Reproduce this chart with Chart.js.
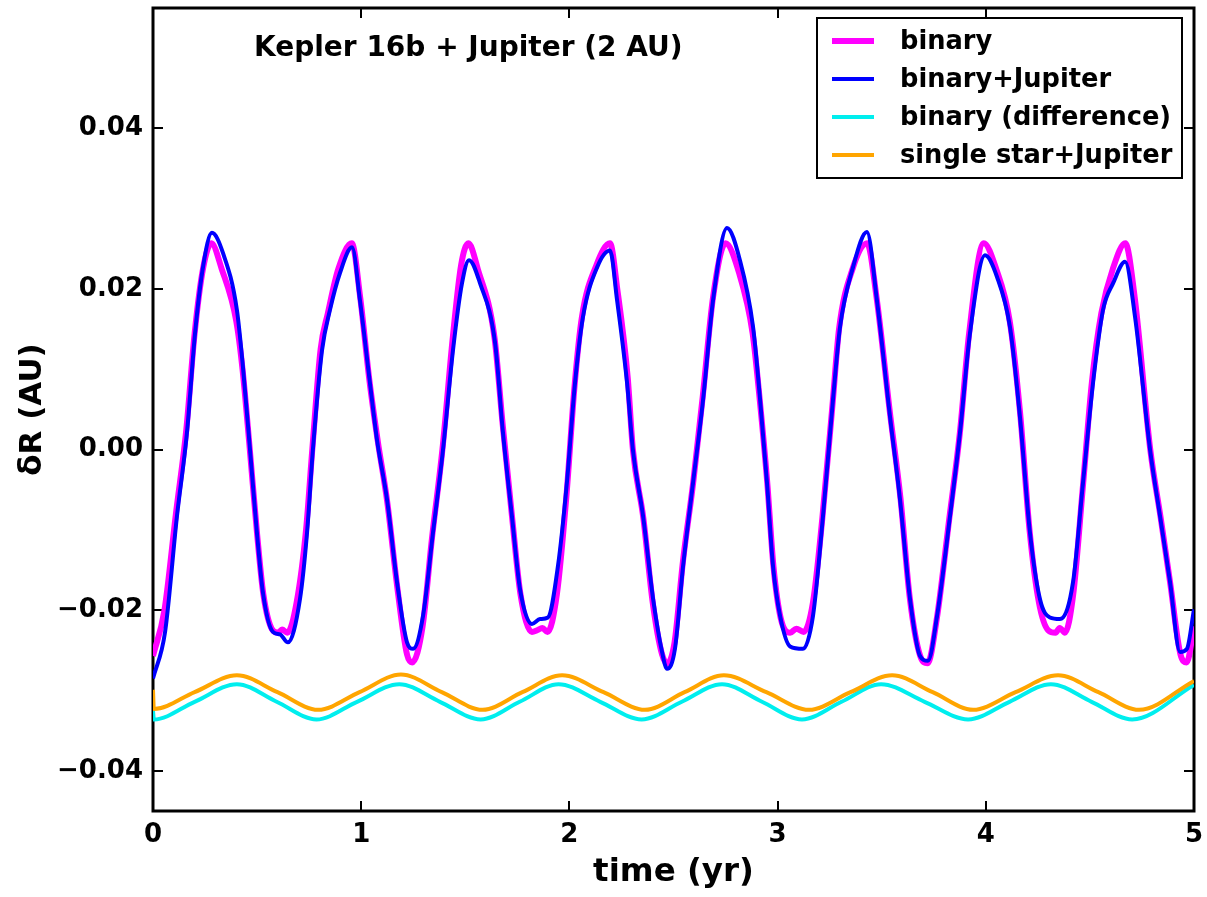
<!DOCTYPE html>
<html>
<head>
<meta charset="utf-8">
<script src="https://cdn.jsdelivr.net/npm/chart.js@4.4.1/dist/chart.umd.min.js"></script>
<style>
  html, body { margin: 0; padding: 0; background: #ffffff; }
  #wrap { width: 1207px; height: 897px; }
</style>
</head>
<body>
<div id="wrap"><canvas id="c" width="1207" height="897"></canvas></div>
<script>
// ---------------- DATA ----------------
const chartTitle = "Kepler 16b + Jupiter (2 AU)";
const seriesLabels = ["binary", "binary+Jupiter", "binary (difference)", "single star+Jupiter"];
const xTicks = [0, 1, 2, 3, 4, 5];
const yTicks = [-0.04, -0.02, 0.00, 0.02, 0.04];

// binary (magenta)
const binaryTime = [0.000,0.055,0.110,0.160,0.200,0.240,0.280,0.330,0.400,0.430,0.465,0.500,0.530,0.575,0.600,0.620,0.645,0.690,0.735,0.765,0.805,0.840,0.890,0.955,0.995,1.040,1.080,1.125,1.175,1.220,1.245,1.295,1.340,1.390,1.440,1.480,1.515,1.560,1.640,1.680,1.725,1.765,1.820,1.845,1.870,1.895,1.940,1.985,2.025,2.060,2.130,2.195,2.230,2.280,2.305,2.355,2.400,2.445,2.470,2.505,2.545,2.595,2.640,2.690,2.750,2.815,2.880,2.915,2.950,2.980,3.015,3.060,3.090,3.125,3.170,3.215,3.265,3.295,3.360,3.430,3.475,3.540,3.590,3.635,3.685,3.720,3.765,3.825,3.875,3.920,3.990,4.050,4.115,4.165,4.210,4.255,4.300,4.335,4.355,4.380,4.420,4.465,4.510,4.555,4.610,4.670,4.715,4.790,4.840,4.885,4.935,4.965,5.000];
const binaryDR = [-0.0257,-0.0200,-0.0080,0.0025,0.0145,0.0225,0.0257,0.0225,0.0160,0.0100,0.0000,-0.0105,-0.0180,-0.0225,-0.0228,-0.0224,-0.0228,-0.0190,-0.0100,0.0000,0.0125,0.0170,0.0225,0.0257,0.0190,0.0085,0.0010,-0.0065,-0.0175,-0.0255,-0.0265,-0.0220,-0.0110,0.0000,0.0140,0.0230,0.0257,0.0225,0.0140,0.0030,-0.0085,-0.0180,-0.0227,-0.0225,-0.0222,-0.0227,-0.0180,-0.0060,0.0080,0.0165,0.0230,0.0257,0.0200,0.0090,0.0000,-0.0085,-0.0190,-0.0255,-0.0266,-0.0240,-0.0140,-0.0040,0.0065,0.0190,0.0257,0.0220,0.0145,0.0060,-0.0040,-0.0145,-0.0210,-0.0228,-0.0223,-0.0227,-0.0190,-0.0085,0.0060,0.0150,0.0225,0.0257,0.0190,0.0045,-0.0060,-0.0185,-0.0257,-0.0266,-0.0210,-0.0085,0.0020,0.0145,0.0257,0.0225,0.0160,0.0045,-0.0100,-0.0190,-0.0225,-0.0228,-0.0222,-0.0228,-0.0180,-0.0050,0.0085,0.0170,0.0225,0.0257,0.0190,0.0000,-0.0085,-0.0165,-0.0255,-0.0265,-0.0220];

// binary+Jupiter (blue)
const jupTime = [0.000,0.058,0.115,0.163,0.202,0.240,0.283,0.336,0.403,0.432,0.466,0.499,0.528,0.576,0.610,0.648,0.706,0.740,0.768,0.812,0.850,0.898,0.956,0.994,1.042,1.076,1.124,1.172,1.220,1.249,1.297,1.345,1.393,1.441,1.484,1.518,1.571,1.643,1.681,1.724,1.763,1.820,1.859,1.897,1.945,1.988,2.027,2.065,2.133,2.195,2.229,2.277,2.305,2.354,2.402,2.445,2.469,2.507,2.546,2.594,2.642,2.690,2.757,2.819,2.882,2.916,2.949,2.978,3.012,3.060,3.122,3.170,3.218,3.266,3.300,3.362,3.429,3.477,3.540,3.588,3.636,3.684,3.722,3.766,3.828,3.876,3.924,3.996,4.054,4.116,4.164,4.212,4.260,4.308,4.356,4.419,4.467,4.515,4.563,4.611,4.669,4.717,4.789,4.837,4.885,4.933,4.966,5.000];
const jupDR = [-0.0285,-0.0227,-0.0083,0.0021,0.0145,0.0227,0.0270,0.0245,0.0174,0.0103,0.0000,-0.0103,-0.0178,-0.0227,-0.0230,-0.0240,-0.0186,-0.0103,0.0000,0.0124,0.0174,0.0220,0.0252,0.0186,0.0083,0.0012,-0.0062,-0.0165,-0.0240,-0.0248,-0.0207,-0.0103,0.0000,0.0124,0.0207,0.0236,0.0207,0.0133,0.0021,-0.0083,-0.0174,-0.0217,-0.0211,-0.0209,-0.0145,-0.0041,0.0083,0.0165,0.0227,0.0248,0.0186,0.0083,0.0000,-0.0083,-0.0186,-0.0252,-0.0273,-0.0248,-0.0145,-0.0041,0.0062,0.0186,0.0276,0.0236,0.0153,0.0062,-0.0041,-0.0145,-0.0207,-0.0245,-0.0248,-0.0207,-0.0083,0.0062,0.0153,0.0227,0.0271,0.0186,0.0041,-0.0062,-0.0186,-0.0257,-0.0263,-0.0207,-0.0083,0.0021,0.0145,0.0242,0.0215,0.0153,0.0041,-0.0103,-0.0186,-0.0209,-0.0211,-0.0165,-0.0041,0.0083,0.0174,0.0207,0.0234,0.0165,0.0000,-0.0083,-0.0165,-0.0252,-0.0248,-0.0199];

// binary (difference) (cyan)
const diffTime = [0.000,0.004,0.200,0.403,0.594,0.785,0.980,1.183,1.378,1.574,1.761,1.948,2.148,2.347,2.540,2.733,2.925,3.117,3.307,3.497,3.706,3.915,4.114,4.313,4.508,4.703,5.000];
const diffDR = [-0.0325,-0.0336,-0.0314,-0.0292,-0.0314,-0.0336,-0.0314,-0.0292,-0.0314,-0.0336,-0.0314,-0.0292,-0.0314,-0.0336,-0.0314,-0.0292,-0.0314,-0.0336,-0.0314,-0.0292,-0.0314,-0.0336,-0.0314,-0.0292,-0.0314,-0.0336,-0.0293];

// single star+Jupiter (orange)
const singleTime = [0.000,0.004,0.200,0.403,0.598,0.793,0.992,1.191,1.387,1.583,1.774,1.965,2.164,2.363,2.553,2.742,2.946,3.151,3.350,3.550,3.745,3.939,4.143,4.347,4.541,4.736,5.000];
const singleDR = [-0.0299,-0.0323,-0.0302,-0.0281,-0.0302,-0.0324,-0.0302,-0.0280,-0.0302,-0.0324,-0.0302,-0.0281,-0.0302,-0.0324,-0.0302,-0.0281,-0.0302,-0.0324,-0.0302,-0.0281,-0.0302,-0.0324,-0.0302,-0.0281,-0.0302,-0.0324,-0.0288];

// ---------------- STYLE ----------------
const FONT = "'DejaVu Sans', sans-serif";
const colors = ["#ff00ff", "#0000ff", "#00eeee", "#ffa500"];
const widths = [6, 4, 4, 4];

function pts(t, v) { return t.map((x, i) => ({ x: x, y: v[i] })); }

const framePlugin = {
  id: 'frame',
  beforeDatasetsDraw(chart) {
    const { ctx, chartArea: a, scales } = chart;
    ctx.save();
    ctx.strokeStyle = '#000';
    ctx.lineWidth = 2;
    const L = 10;
    ctx.beginPath();
    yTicks.forEach(v => {
      const y = Math.round(scales.y.getPixelForValue(v));
      ctx.moveTo(a.left, y); ctx.lineTo(a.left + L, y);
      ctx.moveTo(a.right, y); ctx.lineTo(a.right - L, y);
    });
    xTicks.forEach(v => {
      const x = Math.round(scales.x.getPixelForValue(v));
      ctx.moveTo(x, a.bottom); ctx.lineTo(x, a.bottom - L);
      ctx.moveTo(x, a.top); ctx.lineTo(x, a.top + L);
    });
    ctx.stroke();
    ctx.lineWidth = 3;
    ctx.strokeRect(a.left, a.top, a.right - a.left, a.bottom - a.top);
    ctx.restore();
  },
  afterDraw(chart) {
    const { ctx } = chart;
    ctx.save();
    // title text inside axes
    ctx.fillStyle = '#000';
    ctx.font = "bold 28px " + FONT;
    ctx.textAlign = 'left';
    ctx.textBaseline = 'middle';
    ctx.fillText(chartTitle, 254, 49);
    // legend box
    const bx = 817, by = 18, bw = 365, bh = 160;
    ctx.fillStyle = '#fff';
    ctx.fillRect(bx, by, bw, bh);
    ctx.strokeStyle = '#000';
    ctx.lineWidth = 2;
    ctx.strokeRect(bx, by, bw, bh);
    chart.data.datasets.forEach((ds, i) => {
      const y = 41 + i * 38;
      ctx.strokeStyle = ds.borderColor;
      ctx.lineWidth = ds.borderWidth;
      ctx.beginPath();
      ctx.moveTo(832, y); ctx.lineTo(874, y);
      ctx.stroke();
      ctx.fillStyle = '#000';
      ctx.font = "bold 25.7px " + FONT;
      ctx.textBaseline = 'middle';
      ctx.fillText(ds.label, 900, y + 1);
    });
    ctx.restore();
  }
};

const datasets = [
  { label: seriesLabels[0], data: pts(binaryTime, binaryDR), order: 4 },
  { label: seriesLabels[1], data: pts(jupTime, jupDR), order: 3 },
  { label: seriesLabels[2], data: pts(diffTime, diffDR), order: 2 },
  { label: seriesLabels[3], data: pts(singleTime, singleDR), order: 1 }
].map((d, i) => Object.assign(d, {
  borderColor: colors[i], backgroundColor: colors[i], borderWidth: widths[i],
  pointRadius: 0, fill: false, cubicInterpolationMode: 'monotone',
  borderJoinStyle: 'round', borderCapStyle: 'butt'
}));

new Chart(document.getElementById('c'), {
  type: 'line',
  data: { datasets },
  plugins: [framePlugin],
  options: {
    responsive: false,
    animation: false,
    devicePixelRatio: 1,
    events: [],
    layout: { padding: { top: 8, right: 13, left: 0, bottom: 0 } },
    plugins: { legend: { display: false }, tooltip: { enabled: false } },
    scales: {
      x: {
        type: 'linear', min: 0, max: 5,
        grid: { display: false, drawTicks: false },
        border: { display: false },
        afterBuildTicks: s => { s.ticks = xTicks.map(v => ({ value: v })); },
        afterFit: s => { s.height = 86; s.paddingLeft = 0; s.paddingRight = 0; },
        ticks: {
          color: '#000', padding: 9, maxRotation: 0,
          font: { family: FONT, size: 26, weight: 'bold' },
          callback: v => String(v)
        },
        title: {
          display: true, text: 'time (yr)', color: '#000',
          font: { family: FONT, size: 32.5, weight: 'bold', lineHeight: 1 },
          padding: { top: 0, bottom: 8 }
        }
      },
      y: {
        type: 'linear', min: -0.045, max: 0.055,
        grid: { display: false, drawTicks: false },
        border: { display: false },
        afterBuildTicks: s => { s.ticks = yTicks.map(v => ({ value: v })); },
        afterFit: s => { s.width = 153; s.paddingTop = 0; s.paddingBottom = 0; },
        ticks: {
          color: '#000', padding: 10,
          font: { family: FONT, size: 26, weight: 'bold' },
          callback: v => (v < -1e-9 ? '\u2212' + Math.abs(v).toFixed(2) : Math.abs(v).toFixed(2))
        },
        title: {
          display: true, text: '\u03b4R (AU)', color: '#000',
          font: { family: FONT, size: 31, weight: 'bold', lineHeight: 1 },
          padding: { top: 17, bottom: 0 }
        }
      }
    }
  }
});
</script>
</body>
</html>
